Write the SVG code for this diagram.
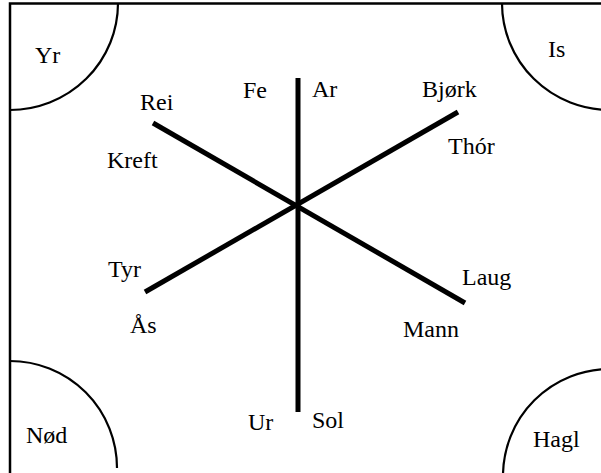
<svg xmlns="http://www.w3.org/2000/svg" width="601" height="473" viewBox="0 0 601 473">
<style>
.arc{fill:none;stroke:#000;stroke-width:2.2}
.spoke{stroke:#000;stroke-width:5;fill:none}
text{font-family:'Liberation Serif','Times New Roman',serif;font-size:24px;fill:#000}
</style>
<rect width="601" height="473" fill="#fff"/>
<rect x="10" y="3.5" width="600" height="480" fill="none" stroke="#000" stroke-width="2.5"/>
<g id="yr"><path class="arc" d="M118,3.5 A108,107 0 0 1 10,110"/><text x="35" y="63">Yr</text></g>
<g id="is"><path class="arc" d="M502,3.5 A108,107 0 0 0 610,110"/><text x="548" y="57">Is</text></g>
<g id="nod"><path class="arc" d="M10,361 A107,107 0 0 1 117,468"/><text x="26" y="443">Nød</text></g>
<g id="hagl"><path class="arc" d="M610,369 A107,107 0 0 0 503,476"/><text x="533" y="447">Hagl</text></g>
<g id="connectors">
<line class="spoke" x1="298" y1="78" x2="298" y2="412"/>
<line class="spoke" x1="153" y1="123" x2="465" y2="303"/>
<line class="spoke" x1="145" y1="292" x2="458" y2="112"/>
</g>
<g id="rei"><text x="140" y="110">Rei</text></g>
<g id="kreft"><text x="107" y="168">Kreft</text></g>
<g id="fe"><text x="243" y="98">Fe</text></g>
<g id="ar"><text x="312" y="97">Ar</text></g>
<g id="bjork"><text x="422" y="97">Bjørk</text></g>
<g id="thor"><text x="448" y="154">Thór</text></g>
<g id="tyr"><text x="108" y="277">Tyr</text></g>
<g id="as"><text x="130" y="333">Ås</text></g>
<g id="laug"><text x="462" y="285">Laug</text></g>
<g id="mann"><text x="403" y="337">Mann</text></g>
<g id="ur"><text x="248" y="430">Ur</text></g>
<g id="sol"><text x="312" y="428">Sol</text></g>
</svg>
